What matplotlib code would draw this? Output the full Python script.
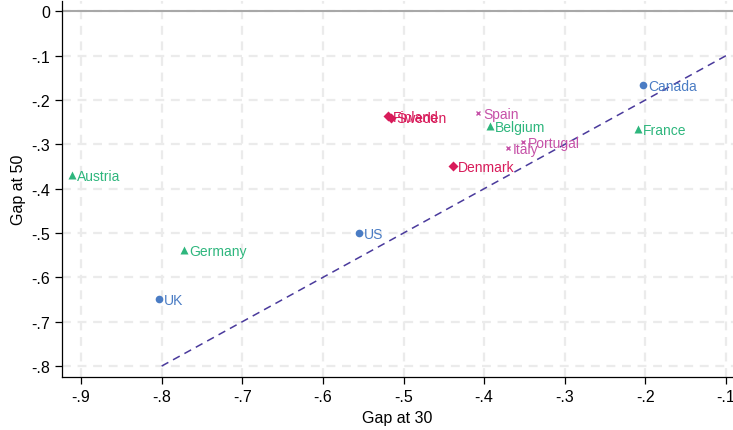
import matplotlib
matplotlib.use("Agg")
import matplotlib.pyplot as plt

plt.rcParams['font.family'] = ['Liberation Sans', 'DejaVu Sans']

# Country gaps at ages 30 and 50, grouped by regime
countries = ["Canada", "UK", "US",
             "Austria", "Belgium", "France", "Germany",
             "Italy", "Portugal", "Spain",
             "Denmark", "Finland", "Sweden"]
gap30 = [-0.203, -0.803, -0.555,
         -0.911, -0.393, -0.209, -0.772,
         -0.370, -0.352, -0.407,
         -0.438, -0.519, -0.515]
gap50 = [-0.166, -0.649, -0.500,
         -0.369, -0.259, -0.266, -0.538,
         -0.309, -0.295, -0.230,
         -0.349, -0.236, -0.240]
groups = ["lib", "lib", "lib",
          "cont", "cont", "cont", "cont",
          "south", "south", "south",
          "nord", "nord", "nord"]

styles = {
    "lib":   dict(marker="o", color="#4a7cc4", ms=5.5),
    "cont":  dict(marker="^", color="#2eb67d", ms=6),
    "south": dict(marker="x", color="#c652a8", ms=3.5),
    "nord":  dict(marker="D", color="#d81b5a", ms=5),
}

x_ticks = [-0.9, -0.8, -0.7, -0.6, -0.5, -0.4, -0.3, -0.2, -0.1]
x_labels = ["-.9", "-.8", "-.7", "-.6", "-.5", "-.4", "-.3", "-.2", "-.1"]
y_ticks = [0, -0.1, -0.2, -0.3, -0.4, -0.5, -0.6, -0.7, -0.8]
y_labels = ["0", "-.1", "-.2", "-.3", "-.4", "-.5", "-.6", "-.7", "-.8"]
diag = [-0.8, -0.1]

fig = plt.figure(figsize=(7.33, 4.31), dpi=100)
ax = fig.add_axes([0.0846, 0.122, 0.9154, 0.873])

ax.set_xlim(-0.9236, -0.0913)
ax.set_ylim(-0.8256, 0.023)

for t in x_ticks:
    ax.axvline(t, color="#ebebeb", lw=1.6, ls=(0, (4, 3)), zorder=0)
for t in y_ticks:
    ax.axhline(t, color="#ebebeb", lw=1.6, ls=(0, (4, 3)), zorder=0)

ax.axhline(0, color="#a8a8a8", lw=1.5, zorder=1)
ax.plot(diag, diag, color="#4a3a9c", lw=1.1, ls=(0, (5, 3.5)), zorder=2)

for name, x, y, g in zip(countries, gap30, gap50, groups):
    st = styles[g]
    kw = dict(marker=st["marker"], color=st["color"], ms=st["ms"],
              ls="none", zorder=3)
    if st["marker"] == "x":
        kw["mew"] = 1.0
    else:
        kw["mec"] = "none"
    ax.plot([x], [y], **kw)
    ax.annotate(name, (x, y), xytext=(3.5, -0.5), textcoords="offset points",
                ha="left", va="center", color=st["color"], fontsize=10,
                zorder=4)

ax.set_xticks(x_ticks)
ax.set_xticklabels(x_labels)
ax.set_yticks(y_ticks)
ax.set_yticklabels(y_labels)
ax.tick_params(labelsize=11.5, length=5, width=0.9, color="black")
ax.set_xlabel("Gap at 30", fontsize=11.5)
ax.set_ylabel("Gap at 50", fontsize=11.5)

for side in ["top", "right"]:
    ax.spines[side].set_visible(False)
for side in ["left", "bottom"]:
    ax.spines[side].set_linewidth(0.9)

fig.savefig("out.png", dpi=100)
